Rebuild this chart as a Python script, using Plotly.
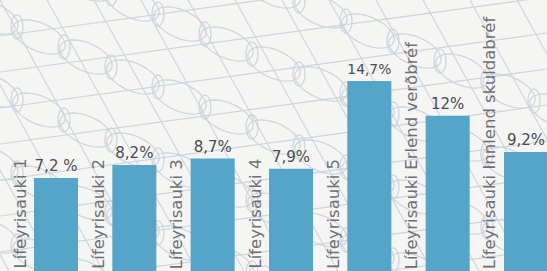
import math
import plotly.graph_objects as go

categories = ["Lífeyrisauki 1", "Lífeyrisauki 2", "Lífeyrisauki 3", "Lífeyrisauki 4",
              "Lífeyrisauki 5", "Lífeyrisauki Erlend verðbréf", "Lífeyrisauki Innlend skuldabréf"]
values = [7.2, 8.2, 8.7, 7.9, 14.7, 12.0, 9.2]
value_labels = ["7,2 %", "8,2%", "8,7%", "7,9%", "14,7%", "12%", "9,2%"]

W, H = 547, 271
x = list(range(len(categories)))

fig = go.Figure()
fig.add_trace(go.Bar(
    x=x, y=values, text=value_labels, textposition="outside",
    textfont=dict(family="DejaVu Sans", size=15, color="#474c54"),
    marker=dict(color="#54a5c7", line=dict(width=0)),
    cliponaxis=False, hoverinfo="skip",
))

for i, c in enumerate(categories):
    fig.add_annotation(
        x=i, y=0, xref="x", yref="y", text=c, textangle=-90,
        xanchor="center", yanchor="bottom", xshift=-36.5, yshift=0,
        showarrow=False,
        font=dict(family="DejaVu Sans", size=16.5, color="#6d7176"),
    )

# decorative background texture (tilted loops and crossing lines)
def P(px, py):
    return "%.4f,%.4f" % (px / W, 1 - py / H)

pattern_color = "#cdd4db"
shapes = []
for a in range(-6, 14):
    for b in range(-2, 6):
        cx = 17 + a * 47
        cy = 27 + a * 20 + b * 73
        if cx < -50 or cx > W + 50 or cy < -40 or cy > H + 40:
            continue
        ang = math.radians(24)
        pts = []
        for k in range(0, 37):
            t = 2 * math.pi * k / 36
            ex, ey = 28 * math.cos(t), 14 * math.sin(t)
            pts.append(P(cx + 22 + ex * math.cos(ang) - ey * math.sin(ang),
                         cy + 10 + ex * math.sin(ang) + ey * math.cos(ang)))
        shapes.append(dict(type="path", xref="paper", yref="paper", layer="below",
                           path="M" + "L".join(pts),
                           line=dict(color=pattern_color, width=1.2)))
        pts = []
        for k in range(0, 25):
            t = 2 * math.pi * k / 24
            pts.append(P(cx + 6 * math.cos(t), cy + 12 * math.sin(t)))
        shapes.append(dict(type="path", xref="paper", yref="paper", layer="below",
                           path="M" + "L".join(pts),
                           line=dict(color=pattern_color, width=1.2)))
for s in range(-8, 16):
    x0 = s * 47
    shapes.append(dict(type="line", xref="paper", yref="paper", layer="below",
                       x0=x0 / W, y0=1, x1=(x0 + 150) / W, y1=1 - 271 / H,
                       line=dict(color=pattern_color, width=1.1)))
for s in range(-2, 12):
    y0 = s * 36
    shapes.append(dict(type="line", xref="paper", yref="paper", layer="below",
                       x0=0, y0=1 - y0 / H, x1=1, y1=1 - (y0 - 75) / H,
                       line=dict(color=pattern_color, width=1.1)))

fig.update_layout(
    width=W, height=H,
    margin=dict(l=0, r=0, t=0, b=0),
    paper_bgcolor="#f5f5f3", plot_bgcolor="rgba(0,0,0,0)",
    bargap=0.438, showlegend=False,
    shapes=shapes,
    xaxis=dict(range=[-0.715, 6.268], visible=False, fixedrange=True),
    yaxis=dict(range=[0, 20.96], visible=False, fixedrange=True),
)

fig.write_html("out.html", config={"displayModeBar": False},
               post_script="document.body.style.margin='0';document.body.style.overflow='hidden';")
